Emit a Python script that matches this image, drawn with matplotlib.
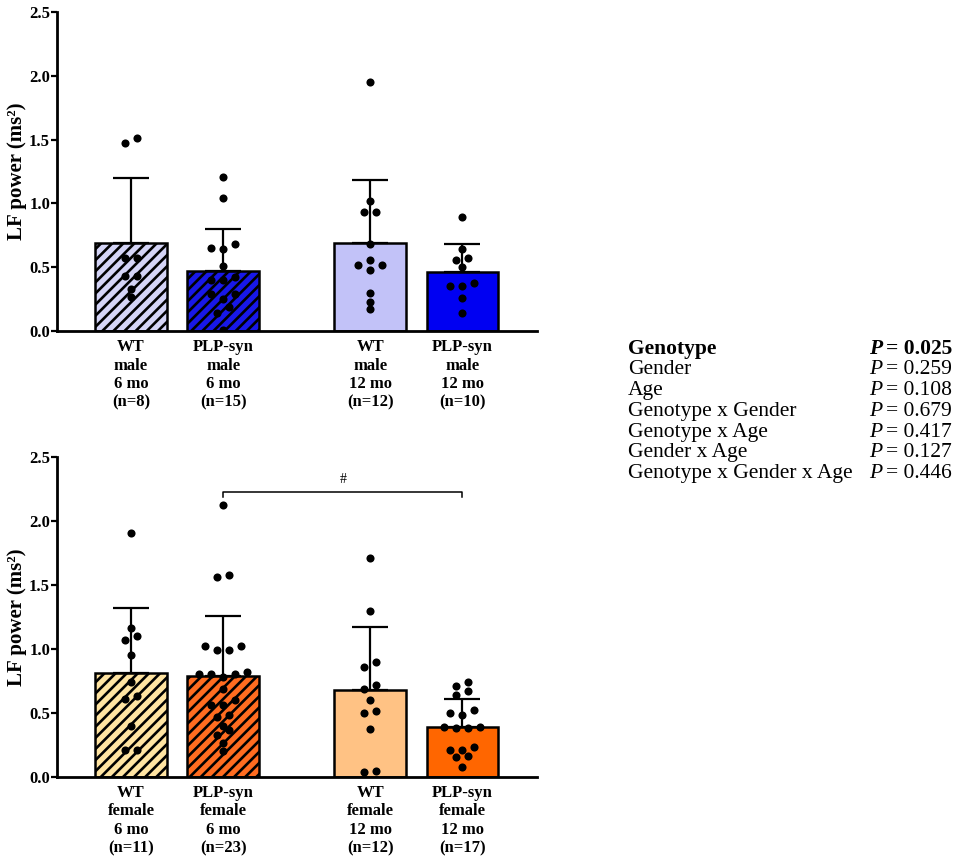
import numpy as np
import matplotlib
matplotlib.use('Agg')
import matplotlib.pyplot as plt

plt.rcParams['font.family'] = ['Liberation Serif', 'DejaVu Serif']
plt.rcParams['hatch.linewidth'] = 1.9

# ---------------- data ----------------
genotypes = ['WT', 'PLP-syn', 'WT', 'PLP-syn']
ages = ['6 mo', '6 mo', '12 mo', '12 mo']

male_points = [
    [1.47, 1.51, 0.57, 0.57, 0.43, 0.43, 0.33, 0.27],
    [1.21, 1.04, 0.68, 0.64, 0.65, 0.51, 0.40, 0.42, 0.40, 0.29, 0.29, 0.25, 0.19, 0.14, 0.01],
    [1.95, 1.02, 0.93, 0.93, 0.68, 0.56, 0.52, 0.52, 0.475, 0.30, 0.23, 0.175],
    [0.89, 0.64, 0.57, 0.56, 0.50, 0.38, 0.35, 0.35, 0.26, 0.14],
]
male_means = [0.69, 0.47, 0.69, 0.46]
male_sd = [0.51, 0.33, 0.49, 0.22]

female_points = [
    [1.91, 1.16, 1.10, 1.07, 0.95, 0.74, 0.63, 0.61, 0.40, 0.21, 0.21],
    [2.13, 1.58, 1.56, 1.02, 0.99, 0.99, 1.02, 0.80, 0.82, 0.78, 0.80, 0.80, 0.69,
     0.60, 0.56, 0.56, 0.47, 0.48, 0.40, 0.33, 0.365, 0.26, 0.20],
    [1.71, 1.30, 0.895, 0.856, 0.715, 0.684, 0.60, 0.514, 0.50, 0.37, 0.034, 0.047],
    [0.74, 0.71, 0.64, 0.67, 0.52, 0.50, 0.48, 0.38, 0.38, 0.39, 0.39, 0.235, 0.21,
     0.21, 0.16, 0.155, 0.075],
]
female_means = [0.81, 0.79, 0.68, 0.39]
female_sd = [0.51, 0.47, 0.49, 0.22]

factors = ['Genotype', 'Gender', 'Age', 'Genotype x Gender', 'Genotype x Age',
           'Gender x Age', 'Genotype x Gender x Age']
pvals = [0.025, 0.259, 0.108, 0.679, 0.417, 0.127, 0.446]

# ---------------- style ----------------
male_colors = ['#d4d4f6', '#1818e8', '#c2c2f8', '#0000f2']
female_colors = ['#ffe4a2', '#ff6c20', '#ffc284', '#ff6600']
hatches = ['///', '///', None, None]
xpos = [1.0, 2.0, 3.6, 4.6]
bar_w = 0.78


def swarm_offsets(vals, row_h=0.05, step=0.13):
    vals = np.asarray(vals, float)
    order = np.argsort(vals, kind='stable')
    offs = np.zeros(len(vals))
    rows, cur = [], [order[0]]
    for idx in order[1:]:
        if vals[idx] - vals[cur[0]] < row_h:
            cur.append(idx)
        else:
            rows.append(cur)
            cur = [idx]
    rows.append(cur)
    for r in rows:
        n = len(r)
        if n % 2 == 1:
            pos = [0.0]
            for k in range(1, n // 2 + 1):
                pos += [-k, k]
        else:
            pos = []
            for k in range(n // 2):
                pos += [-(k + 0.5), k + 0.5]
        for idx, p in zip(r, pos):
            offs[idx] = p * step
    return offs


def draw_panel(ax, points, means, sds, colors, sex):
    for i in range(4):
        b = ax.bar(xpos[i], means[i], bar_w, color=colors[i], edgecolor='black',
                   linewidth=1.8, zorder=2)
        if hatches[i]:
            b[0].set_hatch(hatches[i])
    ax.errorbar(xpos, means, yerr=[np.zeros(4), sds], fmt='none', ecolor='black',
                elinewidth=1.6, capsize=13, capthick=1.6, zorder=3)
    for i in range(4):
        vals = np.asarray(points[i])
        xs = xpos[i] + swarm_offsets(vals)
        ax.scatter(xs, vals, s=34, color='black', linewidths=0, zorder=4)
    ax.set_xlim(0.196, 5.41)
    ax.set_ylim(0, 2.5)
    for s in ['top', 'right']:
        ax.spines[s].set_visible(False)
    for s in ['left', 'bottom']:
        ax.spines[s].set_linewidth(2.0)
    yt = np.arange(0, 2.51, 0.5)
    ax.set_yticks(yt, labels=[f'{t:.1f}' for t in yt], fontsize=12, fontweight='bold')
    ax.tick_params(axis='y', length=4, width=1.6, direction='out', pad=1)
    labels = [f'{g}\n{sex}\n{a}\n(n={len(p)})' for g, a, p in zip(genotypes, ages, points)]
    ax.set_xticks(xpos, labels=labels, fontsize=12, fontweight='bold', linespacing=1.2)
    ax.tick_params(axis='x', length=0, pad=6)
    ax.set_ylabel('LF power (ms²)', fontsize=15, fontweight='bold')
    ax.yaxis.set_label_coords(-0.063, 0.5)


fig = plt.figure(figsize=(9.57, 8.61), dpi=100)
W, H = 957, 861
ax1 = fig.add_axes([57 / W, 1 - 331 / H, 480 / W, 319 / H])
ax2 = fig.add_axes([57 / W, 1 - 776.7 / H, 480 / W, 319.4 / H])

draw_panel(ax1, male_points, male_means, male_sd, male_colors, 'male')
draw_panel(ax2, female_points, female_means, female_sd, female_colors, 'female')

# significance bracket
ax2.plot([xpos[1], xpos[1], xpos[3], xpos[3]], [2.19, 2.23, 2.23, 2.19],
         color='black', lw=1.1, zorder=3, clip_on=False)
ax2.text((xpos[1] + xpos[3]) / 2, 2.33, '#', ha='center', va='center', fontsize=10)

# stats table
base0, dy = 353.5, 20.8
for k, (f, p) in enumerate(zip(factors, pvals)):
    y = 1 - (base0 + k * dy) / H
    bold = 'bold' if p < 0.05 else 'normal'
    fig.text(628 / W, y, f, fontsize=15.5, fontweight=bold, va='baseline', ha='left')
    fig.text(869 / W, y, 'P', fontsize=15.5, fontweight=bold, style='italic',
             va='baseline', ha='left')
    fig.text(952 / W, y, f'= {p:.3f}', fontsize=15.5, fontweight=bold,
             va='baseline', ha='right')

fig.savefig('out.png', dpi=100)
